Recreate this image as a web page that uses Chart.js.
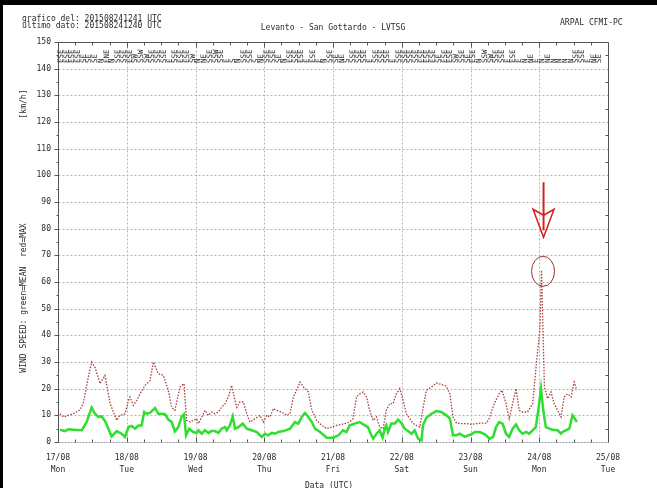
<!DOCTYPE html>
<html><head><meta charset="utf-8">
<script src="https://cdn.jsdelivr.net/npm/chart.js@4/dist/chart.umd.min.js"></script>
<style>html,body{margin:0;padding:0;background:#fff}canvas{display:block}</style>
</head><body>
<canvas id="c" width="657" height="488"></canvas>
<script>
// ---- data (hours since 17/08 00:00 UTC) ----
const dayLabels = ["17/08","18/08","19/08","20/08","21/08","22/08","23/08","24/08","25/08"];
const weekdays  = ["Mon","Tue","Wed","Thu","Fri","Sat","Sun","Mon","Tue"];

const greenHours = [0.7,2.4,3.6,5.4,8.3,10.0,11.75,12.9,14.1,15.2,16.4,17.6,18.7,20.5,22.2,23.4,24.6,25.7,26.9,28.0,29.2,30.1,30.9,32.1,33.9,35.0,36.2,37.4,38.5,39.7,40.8,42.0,43.2,44.0,44.7,45.8,47.2,48.4,49.0,50.2,51.3,52.5,53.6,54.8,56.0,57.1,58.3,58.9,60.0,61.0,61.8,63.0,64.5,65.9,67.6,69.4,71.1,72.3,73.4,74.6,75.8,76.9,78.7,81.0,82.7,83.9,85.1,86.2,87.4,88.6,89.7,91.5,93.8,96.1,97.9,99.5,100.7,101.8,103.6,105.3,107.1,108.2,109.4,110.0,111.2,112.3,113.3,114.1,114.6,115.2,116.4,117.6,118.7,119.9,121.0,122.2,123.4,124.5,125.7,126.9,127.4,128.6,130.4,132.1,133.8,135.6,136.8,137.9,139.1,140.2,142.0,143.2,144.3,145.5,147.2,149.0,150.7,151.9,152.9,154.0,155.2,156.4,157.5,158.7,159.9,161.0,162.2,163.3,164.5,165.7,166.8,167.8,168.6,169.4,170.3,171.5,172.7,174.4,175.6,176.1,177.3,178.5,179.6,180.8,181.1];
const greenValues = [4.6,4.1,4.75,4.6,4.4,7.5,12.9,10.6,9.4,9.6,7.9,5,2.1,4.1,3.1,1.9,5.6,6,5,6.1,6.25,11.25,10.6,10.9,12.75,10.6,10.6,10.4,8.4,7.5,4,5.6,9.6,10.4,2.5,5,3.75,3.4,4.4,3.1,4.4,3.4,4.1,4.1,3.4,5,5.6,4.4,6.25,9.6,5,5.6,6.9,5,4.4,3.75,1.9,3.1,2.5,3.4,3.1,3.75,4.1,5,7.5,6.9,9.4,10.9,9.4,7.5,5,3.75,1.6,1.6,2.5,4.4,3.75,6.25,6.9,7.5,6.25,5.6,2.5,1.25,3.1,4.4,1.6,5,6.25,3.75,6.9,6.9,8.4,7.1,5,4.1,3.1,4.4,1.25,0.6,6.25,9.1,10.6,11.6,11.25,10,8.75,2.5,2.5,3.1,1.9,2.5,2.9,3.75,3.75,2.9,1.25,1.9,5.6,7.5,6.9,3.1,1.9,5,6.6,4.4,3.1,3.75,3.1,4.4,5.6,13,20,11.9,5.6,5,4.6,4.4,3.1,3.75,4.4,5,10,8.1,7.5];

const redHours = [0.7,1.9,3.6,5.4,7.7,8.8,10.6,11.75,12.9,14.7,16.4,18.2,20.5,21.6,23.4,24.6,25.1,26.3,27.5,28.6,30.4,32.1,33.3,35.0,36.8,38.5,39.7,40.8,42.6,44.0,44.9,46.1,47.2,48.4,49.0,50.2,51.3,52.5,53.6,54.8,56.0,57.1,58.3,59.5,60.6,61.8,62.4,63.5,64.7,65.9,67.0,68.8,70.5,71.7,72.8,74.0,75.2,76.3,78.1,79.8,81.0,82.2,83.3,84.5,85.7,87.4,88.6,90.3,92.1,93.8,95.5,97.3,99.0,100.8,101.8,103.0,104.2,105.3,106.5,107.7,108.8,110.0,111.2,112.3,113.5,114.6,115.8,117.0,118.1,119.3,120.5,121.6,122.8,124.0,125.1,126.3,127.4,128.6,130.4,132.1,133.8,135.6,136.8,137.9,139.1,140.8,142.6,144.3,146.1,147.8,149.6,150.5,152.3,154.0,155.0,156.4,157.5,158.7,159.9,161.0,162.2,163.9,165.7,167.1,168.2,168.8,169.3,169.8,170.9,172.1,173.2,174.4,175.6,176.7,177.9,179.1,180.2,181.1];
const redValues = [10.6,9.4,10,10.6,12.1,14.4,24.4,30,28,21.9,25,14.4,8.1,10,10.6,15.6,16.9,13.75,15.6,18,21.25,23,30,25.6,25,19.4,13,11.9,20.6,21.9,8.1,7.5,8.1,8.75,6.9,9.4,11.9,10,11.25,10.6,11.25,13,14.4,16.9,21.25,15.6,13,15,15,10.6,7.5,8.75,10,7.5,10,9.4,12.5,11.9,11.25,10,10.6,16.9,19.4,22.5,20.6,18.75,11.9,8.1,6.25,5,5.6,6.25,6.6,7.1,7.5,8.75,16.9,18,18.75,16.9,11.9,8.1,9.4,5.6,5,11.9,14.4,14.4,18,20,15.6,10.6,8.75,6.9,6.25,5.6,12.5,19.4,20.6,22.1,21.6,20.9,18,9.4,7.1,6.9,6.9,6.6,6.9,7.1,7.1,8.75,14.4,18.1,19.4,14.4,8.75,14.4,20,11.9,11.25,11.25,14.4,30.6,42,64.4,42,20.6,16.25,18.75,14.4,11.9,9.4,16.9,18.1,16.9,22.5,19.4];

// wind direction strings printed along the top (one every 2 hours from 01 UTC)
const dirLabels = ["ESE","ESE","ESE","ESE","SE","SE","SE","N","ENE","N","SSE","SSE","ESE","SW","SSW","SW","SSE","SSE","SSE","E","SSE","ESE","ESE","SW","N","NE","SSE","SSW","SSE","E","S","N","SSE","SSE","S","NE","SSE","SSE","SE","N","ESE","SSE","ESE","E","ESE","E","N","SSE","SE","NE","S","SSE","SSE","SSE","E","SSE","SSE","SSE","E","SSE","SSE","SSE","SSE","ESE","ESE","ESE","SE","ESE","ESE","SW","SSE","SE","ESE","N","SSW","SW","SSE","SSE","E","ESE","E","N","NE","E","N","NE","N","N","N","N","SSE","SSE","E","NE","SE"];

const titleLines = ["grafico del: 201508241241 UTC","ultimo dato: 201508241240 UTC"];
const stationTitle = "Levanto - San Gottardo - LVTSG";
const sourceText = "ARPAL CFMI-PC";
const yTitle = "WIND SPEED: green=MEAN  red=MAX";
const unitText = "[km/h]";
const xTitle = "Data (UTC)";

const MONO = "'DejaVu Sans Mono','Liberation Mono',monospace";
const TXT = "#2a2a2a";

const bgPlugin = {
  id: 'bg',
  beforeDraw(chart) {
    const c = chart.ctx;
    c.save();
    c.fillStyle = '#fff';
    c.fillRect(0, 0, chart.width, chart.height);
    c.fillStyle = '#000';
    c.fillRect(0, 0, chart.width, 5);
    c.fillRect(0, 0, 3, chart.height);
    c.restore();
  }
};

const gridPlugin = {
  id: 'gridbox',
  beforeDatasetsDraw(chart) {
    const c = chart.ctx, a = chart.chartArea, x = chart.scales.x, y = chart.scales.y;
    const L = a.left + 0.5, R = Math.round(a.right) + 0.5, T = a.top + 0.5, B = Math.round(a.bottom) + 0.5;
    c.save();
    c.lineWidth = 1;
    c.strokeStyle = '#b4b4b4';
    c.setLineDash([2, 2]);
    y.ticks.forEach(t => {
      if (t.value <= y.min || t.value >= y.max) return;
      const py = Math.round(y.getPixelForValue(t.value)) + 0.5;
      c.beginPath(); c.moveTo(L, py); c.lineTo(R, py); c.stroke();
    });
    x.ticks.forEach(t => {
      if (t.value <= x.min || t.value >= x.max) return;
      const px = Math.round(x.getPixelForValue(t.value)) + 0.5;
      c.beginPath(); c.moveTo(px, T); c.lineTo(px, B); c.stroke();
    });
    c.setLineDash([]);
    // frame
    c.strokeStyle = '#555';
    c.beginPath();
    c.moveTo(L, B); c.lineTo(L, T); c.lineTo(R, T); c.lineTo(R, B);
    c.stroke();
    c.strokeStyle = '#999';
    c.setLineDash([2, 1]);
    c.beginPath(); c.moveTo(L, B); c.lineTo(R, B); c.stroke();
    c.setLineDash([]);
    // ticks
    c.strokeStyle = '#555';
    c.beginPath();
    for (let v = y.min; v <= y.max; v += 5) {
      const py = Math.round(y.getPixelForValue(v)) + 0.5;
      const major = v % 10 === 0;
      c.moveTo(L - (major ? 4 : 2), py); c.lineTo(L, py);
      c.moveTo(R, py); c.lineTo(R - (major ? 0 : 3), py);
    }
    for (let h = x.min; h <= x.max; h += 6) {
      const px = Math.round(x.getPixelForValue(h)) + 0.5;
      const major = h % 24 === 0;
      c.moveTo(px, T); c.lineTo(px, T + (major ? 5 : 3));
      c.moveTo(px, B); c.lineTo(px, B - (major ? 5 : 3));
    }
    c.stroke();
    c.restore();
  }
};

const notePlugin = {
  id: 'notes',
  afterDatasetsDraw(chart) {
    const c = chart.ctx, x = chart.scales.x, y = chart.scales.y;
    // highlight the highest gust
    let k = 0;
    redValues.forEach((v, i) => { if (v > redValues[k]) k = i; });
    const px = x.getPixelForValue(redHours[k]);
    const py = y.getPixelForValue(redValues[k]);
    c.save();
    c.strokeStyle = '#a03030';
    c.lineWidth = 1;
    c.beginPath();
    c.ellipse(px + 1.5, py + 1, 11.5, 15, 0, 0, Math.PI * 2);
    c.stroke();
    // arrow
    c.strokeStyle = '#d42020';
    c.lineWidth = 2;
    c.beginPath();
    c.moveTo(px + 2, py - 88); c.lineTo(px + 2, py - 40);
    c.stroke();
    c.lineWidth = 1.5;
    c.beginPath();
    c.moveTo(px - 8.5, py - 61);
    c.lineTo(px + 2, py - 55);
    c.lineTo(px + 12.5, py - 61);
    c.lineTo(px + 2, py - 33);
    c.closePath();
    c.stroke();
    c.restore();
  },
  afterDraw(chart) {
    const c = chart.ctx, a = chart.chartArea, x = chart.scales.x;
    c.save();
    c.fillStyle = TXT;
    c.font = "8px " + MONO;
    c.textBaseline = 'middle';
    c.textAlign = 'left';
    c.fillText(titleLines[0], 22, 19);
    c.fillText(titleLines[1], 22, 26);
    c.textAlign = 'center';
    c.fillText(stationTitle, (a.left + a.right) / 2, 27.5);
    c.textAlign = 'left';
    c.fillText(sourceText, 560, 23);
    c.textAlign = 'center';
    c.textBaseline = 'top';
    c.fillText(xTitle, (a.left + a.right) / 2 - 4, 482);
    // rotated y titles
    c.textBaseline = 'middle';
    c.save(); c.translate(24, 298); c.rotate(-Math.PI / 2); c.fillText(yTitle, 0, 0); c.restore();
    c.save(); c.translate(24, 104); c.rotate(-Math.PI / 2); c.fillText(unitText, 0, 0); c.restore();
    // wind direction strings
    c.fillStyle = '#333';
    c.font = "7.5px " + MONO;
    c.textAlign = 'left';
    dirLabels.forEach((s, i) => {
      const px = x.getPixelForValue(1 + 2 * i);
      c.save(); c.translate(px, 63); c.rotate(-Math.PI / 2); c.fillText(s, 0, 0); c.restore();
    });
    c.restore();
  }
};

new Chart(document.getElementById('c'), {
  type: 'line',
  data: {
    datasets: [
      { label: 'MEAN', data: greenHours.map((h, i) => ({ x: h, y: greenValues[i] })),
        borderColor: '#2fde2f', borderWidth: 2.5, pointRadius: 0, tension: 0, order: 0, fill: false },
      { label: 'MAX', data: redHours.map((h, i) => ({ x: h, y: redValues[i] })),
        borderColor: '#a83e3e', borderWidth: 1.3, borderDash: [1.5, 1.5], pointRadius: 0, tension: 0, order: 1, fill: false }
    ]
  },
  options: {
    responsive: false, animation: false, events: [],
    layout: { padding: { top: 42, right: 49, left: 0, bottom: 0 } },
    plugins: { legend: { display: false }, tooltip: { enabled: false } },
    scales: {
      x: {
        type: 'linear', min: 0, max: 192,
        afterFit(s) { s.height = 46; },
        grid: { display: false, drawTicks: false }, border: { display: false },
        ticks: {
          stepSize: 24, autoSkip: false, maxRotation: 0, padding: 10, color: TXT,
          font: { family: MONO, size: 8, lineHeight: 1.5 },
          callback: v => { const i = Math.round(v / 24); return [dayLabels[i], weekdays[i]]; }
        }
      },
      y: {
        min: 0, max: 150,
        afterFit(s) { s.width = 58; },
        grid: { display: false, drawTicks: false }, border: { display: false },
        ticks: { stepSize: 10, padding: 7, color: TXT, font: { family: MONO, size: 8 } }
      }
    }
  },
  plugins: [bgPlugin, gridPlugin, notePlugin]
});
</script>
</body></html>
